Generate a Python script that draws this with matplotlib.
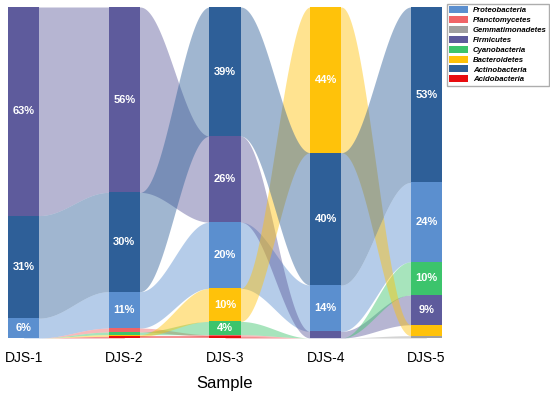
import numpy as np
import matplotlib.pyplot as plt
from matplotlib.patches import Patch

plt.rcParams['font.family'] = ['Liberation Sans', 'DejaVu Sans']

samples = ["DJS-1", "DJS-2", "DJS-3", "DJS-4", "DJS-5"]
phyla = ["Proteobacteria", "Planctomycetes", "Gemmatimonadetes", "Firmicutes",
         "Cyanobacteria", "Bacteroidetes", "Actinobacteria", "Acidobacteria"]
colors = ["#5B8FCF", "#F06467", "#A0A0A0", "#5E5B9C",
          "#3CC46C", "#FFC20A", "#2E5F98", "#E80C10"]

# relative abundance (%) per sample, one list per phylum
proteobacteria = [6, 11, 20, 14, 24]
planctomycetes = [0, 1.2, 0.5, 0, 0]
gemmatimonadetes = [0, 0, 0, 0, 0.7]
firmicutes = [63, 56, 26, 2, 9]
cyanobacteria = [0, 0.8, 4, 0, 10]
bacteroidetes = [0, 0.5, 10, 44, 3.3]
actinobacteria = [31, 30, 39, 40, 53]
acidobacteria = [0, 0.5, 0.5, 0, 0]

values = np.array([proteobacteria, planctomycetes, gemmatimonadetes, firmicutes,
                   cyanobacteria, bacteroidetes, actinobacteria, acidobacteria], float)

n_s = len(samples)
w = 0.31
x = np.arange(n_s)

# stack each sample from the top, largest first
tops = np.zeros_like(values)
bots = np.zeros_like(values)
for j in range(n_s):
    order = sorted(range(len(phyla)), key=lambda k: -values[k, j])
    y = 100.0
    for k in order:
        tops[k, j] = y
        y -= values[k, j]
        bots[k, j] = y

fig = plt.figure(figsize=(5.5, 3.96), dpi=100)
ax = fig.add_axes([8 / 550, 58 / 396, 434 / 550, 331 / 396])

# ribbons between neighbouring samples (ends tucked under the bars)
t = np.linspace(0, 1, 100)
s = (1 - np.cos(np.pi * t)) / 2
for j in range(n_s - 1):
    x0 = x[j] + w / 2
    x1 = x[j + 1] - w / 2
    xs = np.concatenate([[x[j]], x0 + (x1 - x0) * t, [x[j + 1]]])
    for k in range(len(phyla)):
        if values[k, j] == 0 and values[k, j + 1] == 0:
            continue
        up = tops[k, j] + (tops[k, j + 1] - tops[k, j]) * s
        lo = bots[k, j] + (bots[k, j + 1] - bots[k, j]) * s
        up = np.concatenate([[up[0]], up, [up[-1]]])
        lo = np.concatenate([[lo[0]], lo, [lo[-1]]])
        ax.fill_between(xs, lo, up, color=colors[k], alpha=0.45, lw=0)

# bars and labels
for j in range(n_s):
    for k in range(len(phyla)):
        v = values[k, j]
        if v == 0:
            continue
        ax.bar(x[j], v, bottom=bots[k, j], width=w, color=colors[k], lw=0)
        if v >= 4:
            ax.text(x[j], (tops[k, j] + bots[k, j]) / 2, f"{v:.0f}%", color="white",
                    fontsize=8, fontweight="bold", ha="center", va="center")

ax.set_xlim(-w / 2, n_s - 1 + w / 2)
ax.set_ylim(0, 100)
ax.set_xticks(x)
ax.set_xticklabels(samples, fontsize=10)
ax.tick_params(axis="x", length=0, pad=9)
ax.set_yticks([])
for sp in ax.spines.values():
    sp.set_visible(False)
ax.set_xlabel("Sample", fontsize=12, labelpad=8)

handles = [Patch(facecolor=c, edgecolor="none") for c in colors]
leg = fig.legend(handles, phyla, loc="upper left", bbox_to_anchor=(447 / 550, 1 - 4 / 396),
                 fontsize=5.6, frameon=True, fancybox=False, handlelength=2.4,
                 handleheight=1.0, handletextpad=0.6, labelspacing=0.22,
                 borderpad=0.3, borderaxespad=0)
leg.get_frame().set_edgecolor("#999999")
leg.get_frame().set_linewidth(1)
for txt in leg.get_texts():
    txt.set_fontstyle("italic")
    txt.set_fontweight("bold")

fig.savefig("out.png", dpi=100)
